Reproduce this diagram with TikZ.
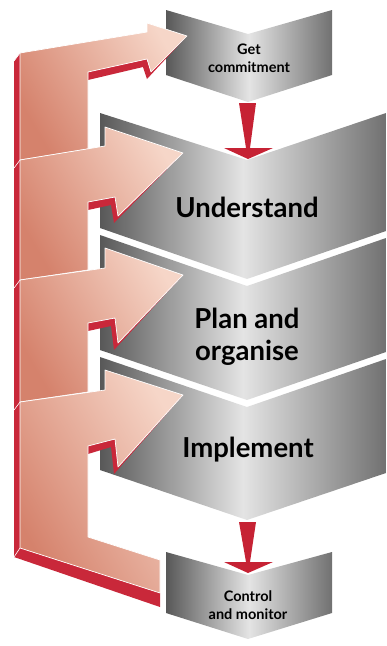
\documentclass[tikz,border=0pt]{standalone}
\usepackage{fontspec}
\setmainfont{Lato}
\usetikzlibrary{calc}
\definecolor{arrowred}{HTML}{C62234}
\definecolor{sidered}{HTML}{C9283A}
\definecolor{pinkdark}{HTML}{D5826C}
\definecolor{pinklight}{HTML}{F6D6C8}
\definecolor{graydark}{HTML}{585858}
\definecolor{graylight}{HTML}{E4E4E4}
\newcommand\flowarrow[2]{%
  \fill[arrowred] ($(#1)+(-9,0)$) -- ($(#1)+(8,0)$) -- ($(#2)+(2,-11)$) -- ($(#2)+(25,-11)$)
    -- (#2) -- ($(#2)+(-24,-11)$) -- ($(#2)+(-2,-11)$) -- cycle;}
\newcommand\sidestrip[4]{%
  \fill[sidered] #1 -- #2 -- #3 -- #4 -- ($#3+(-4,7)$) -- ($#2+(-4,8)$) -- ($#1+(0,8)$) -- cycle;}
\begin{document}
\begin{tikzpicture}[x=1pt,y=-1pt,
  chev/.style={left color=graydark, right color=graydark!85!white, middle color=graylight},
  face/.style={bottom color=pinkdark, top color=pinklight, shading angle=-60,
               draw=white, line width=0.7pt, line join=round},
  seam/.style={draw=white, line width=0.6pt},
  lbl/.style={font=\bfseries\fontsize{27.5}{32}\selectfont, align=center, text=black},
  slbl/.style={font=\bfseries\fontsize{14.5}{18}\selectfont, align=center, text=black}]
\useasboundingbox (0,0) rectangle (386,646);
% chevrons
\path[chev] (166,10) -- (248,34) -- (332,10) -- (332,75) -- (248,102) -- (166,75) -- cycle;
\path[chev] (100,113) -- (247,160) -- (386,113) -- (386,231) -- (247,279) -- (100,228) -- cycle;
\path[chev] (100,235) -- (247,286) -- (386,238) -- (386,352) -- (247,400) -- (100,350) -- cycle;
\path[chev] (100,357) -- (247,407) -- (386,359) -- (386,473) -- (247,520) -- (100,470) -- cycle;
\path[chev] (166,552) -- (248,575) -- (332,552) -- (332,613) -- (248,639) -- (166,613) -- cycle;
% labels
\node[slbl] (tg) at (249,58) {Get\\commitment};
\node[lbl] (tu) at (247,207) {Understand};
\node[lbl] (tp) at (247,337) {Plan and\\organise};
\node[lbl] (ti) at (248,450) {Implement};
\node[slbl] (tc) at (248,605) {Control\\and monitor};
% red flow arrows
\coordinate (gcb) at (248,103);
\coordinate (unt) at (248,159);
\coordinate (imb) at (248,522);
\coordinate (cot) at (248,573);
\flowarrow{gcb}{unt}
\flowarrow{imb}{cot}
% red sides of the feedback loop
\fill[sidered] (20,53) -- (14,61) -- (14,557) -- (160,607) -- (160,593) -- (20,548) -- cycle;
\sidestrip{(88,72)}{(147,59)}{(151,72)}{(187,36)}
\sidestrip{(88,202)}{(115,197)}{(118,216)}{(183,153)}
\sidestrip{(88,323)}{(115,318)}{(118,343)}{(183,275)}
\sidestrip{(88,446)}{(115,439)}{(118,467)}{(183,395)}
% faces of the feedback loop
\path[face] (20,53) -- (147,32) -- (147,23) -- (187,36) -- (151,72) -- (147,59) -- (88,72) -- (88,149) -- (20,160) -- cycle;
\path[face] (20,160) -- (105,146) -- (105,127) -- (183,153) -- (118,216) -- (115,197) -- (88,202) -- (88,270) -- (20,280) -- cycle;
\path[face] (20,280) -- (105,268) -- (105,248) -- (183,275) -- (118,343) -- (115,318) -- (88,323) -- (88,392) -- (20,402) -- cycle;
\path[face] (20,402) -- (105,390) -- (105,370) -- (183,395) -- (118,467) -- (115,439) -- (88,446) -- (88,537) -- (160,560) -- (160,593) -- (20,548) -- cycle;
% seams on the red side
\draw[seam] (20,53) -- (14,61);
\draw[seam] (20,160) -- (14,168);
\draw[seam] (20,280) -- (14,288);
\draw[seam] (20,402) -- (14,410);
\draw[seam] (20,548) -- (14,557);
\end{tikzpicture}
\end{document}
